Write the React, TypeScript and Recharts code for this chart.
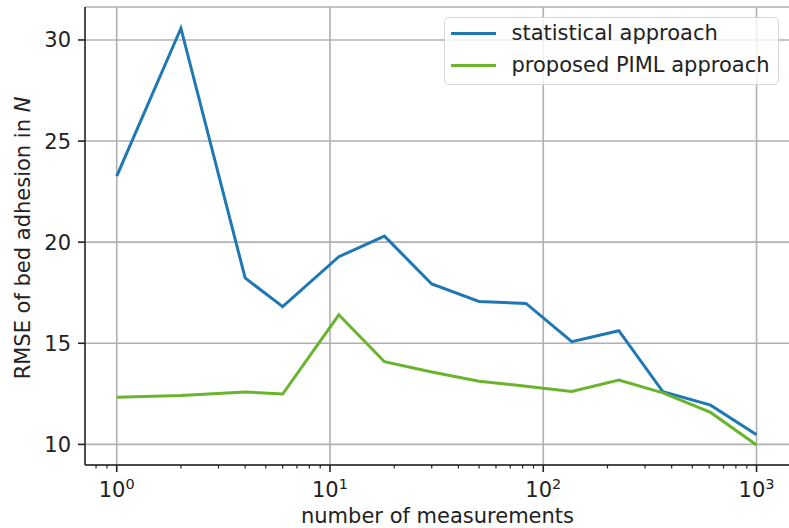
import React from "react";
import { CartesianGrid, Legend, Line, LineChart, ReferenceLine, XAxis, YAxis } from "recharts";

const measurements = [1, 2, 4, 6, 11, 18, 30, 50, 83, 136, 226, 364, 609, 1000];
const statistical = [23.27, 30.58, 18.23, 16.81, 19.28, 20.3, 17.93, 17.07, 16.97, 15.08, 15.62, 12.6, 11.94, 10.48];
const piml = [12.33, 12.42, 12.59, 12.49, 16.41, 14.09, 13.58, 13.12, 12.88, 12.62, 13.18, 12.55, 11.58, 9.97];
const seriesNames = ["statistical approach", "proposed PIML approach"];

const xMajorTicks = [1, 10, 100, 1000];
const xMinorTicks = [0.8, 0.9, 2, 3, 4, 5, 6, 7, 8, 9, 20, 30, 40, 50, 60, 70, 80, 90, 200, 300, 400, 500, 600, 700, 800, 900];
const yTicks = [10, 15, 20, 25, 30];

const FONT = "'DejaVu Sans', sans-serif";
const FS = 21;
const INK = "#222";
const GRID = "#b0b0b0";
const BLUE = "#1f77b4";
const GREEN = "#6ab42d";

const data = measurements.map((n, i) => ({ n, statistical: statistical[i], piml: piml[i] }));
const allXTicks = [...xMinorTicks, ...xMajorTicks].sort((a, b) => a - b);

function XTick({ x, y, payload }: any) {
  const value = payload.value as number;
  const major = xMajorTicks.includes(value);
  return (
    <g>
      <line x1={x} x2={x} y1={y} y2={y + (major ? 7 : 3.5)} stroke={INK} strokeWidth={major ? 1.6 : 1.2} />
      {major && (
        <text x={x} y={y + 32} textAnchor="middle" fontSize={FS} fontFamily={FONT} fill={INK}>
          <tspan>10</tspan>
          <tspan dy={-8} fontSize={14.5}>{Math.round(Math.log10(value))}</tspan>
        </text>
      )}
    </g>
  );
}

function YLabel({ viewBox }: any) {
  const cx = viewBox.x + 23;
  const cy = viewBox.y + viewBox.height / 2 + 2;
  return (
    <text x={cx} y={cy} transform={`rotate(-90 ${cx} ${cy})`} textAnchor="middle" dominantBaseline="central" fontSize={FS} fontFamily={FONT} fill={INK}>
      RMSE of bed adhesion in <tspan fontStyle="italic">N</tspan>
    </text>
  );
}

function XLabel({ viewBox }: any) {
  return (
    <text x={viewBox.x + viewBox.width / 2} y={523} textAnchor="middle" fontSize={FS} fontFamily={FONT} fill={INK}>
      number of measurements
    </text>
  );
}

function LegendBox({ payload }: any) {
  const items = [...(payload || [])].sort((a: any, b: any) => seriesNames.indexOf(a.value) - seriesNames.indexOf(b.value));
  return (
    <div style={{ width: 335, height: 68, boxSizing: "border-box", border: "1.5px solid #d6d6d6", borderRadius: 5, background: "rgba(255,255,255,0.8)", fontFamily: FONT, fontSize: FS, color: INK }}>
      {items.map((entry: any) => (
        <div key={entry.value} style={{ height: 31.4, display: "flex", alignItems: "center" }}>
          <div style={{ marginLeft: 6, width: 45, height: 3, background: entry.color }} />
          <span style={{ marginLeft: 15.5, lineHeight: "21px", whiteSpace: "nowrap" }}>{entry.value}</span>
        </div>
      ))}
    </div>
  );
}

export default function App() {
  return (
    <div style={{ position: "absolute", left: 0, top: 0, width: 789, height: 528, overflow: "hidden", background: "#fff" }}>
      <LineChart width={800} height={528} data={data} margin={{ top: 7, right: 10, bottom: 0, left: 0 }}>
        <CartesianGrid vertical={false} stroke={GRID} strokeWidth={1.6} />
        {xMajorTicks.map((t) => (
          <ReferenceLine key={t} x={t} stroke={GRID} strokeWidth={1.6} />
        ))}
        <XAxis
          dataKey="n"
          type="number"
          scale="log"
          domain={[0.71, 1435]}
          allowDataOverflow
          ticks={allXTicks}
          interval={0}
          tickSize={0}
          tickMargin={0}
          tickLine={false}
          tick={<XTick />}
          height={63}
          axisLine={{ stroke: INK, strokeWidth: 1.6 }}
          label={{ content: <XLabel /> }}
        />
        <XAxis xAxisId="top" orientation="top" type="number" scale="log" domain={[0.71, 1435]} allowDataOverflow height={0} tick={false} tickLine={false} axisLine={{ stroke: INK, strokeWidth: 1.6 }} />
        <YAxis
          type="number"
          domain={[8.98, 31.63]}
          allowDataOverflow
          ticks={yTicks}
          interval={0}
          width={85}
          tickSize={7}
          tickMargin={7}
          tickLine={{ stroke: INK, strokeWidth: 1.6 }}
          axisLine={{ stroke: INK, strokeWidth: 1.6 }}
          tick={{ fontSize: FS, fontFamily: FONT, fill: INK }}
          label={{ content: <YLabel /> }}
        />
        <Legend layout="vertical" align="center" verticalAlign="middle" wrapperStyle={{ left: 444, top: 17, width: 335, height: 68 }} content={<LegendBox />} />
        <Line type="linear" dataKey="statistical" name={seriesNames[0]} stroke={BLUE} strokeWidth={3} dot={false} isAnimationActive={false} />
        <Line type="linear" dataKey="piml" name={seriesNames[1]} stroke={GREEN} strokeWidth={3} dot={false} isAnimationActive={false} />
      </LineChart>
    </div>
  );
}
